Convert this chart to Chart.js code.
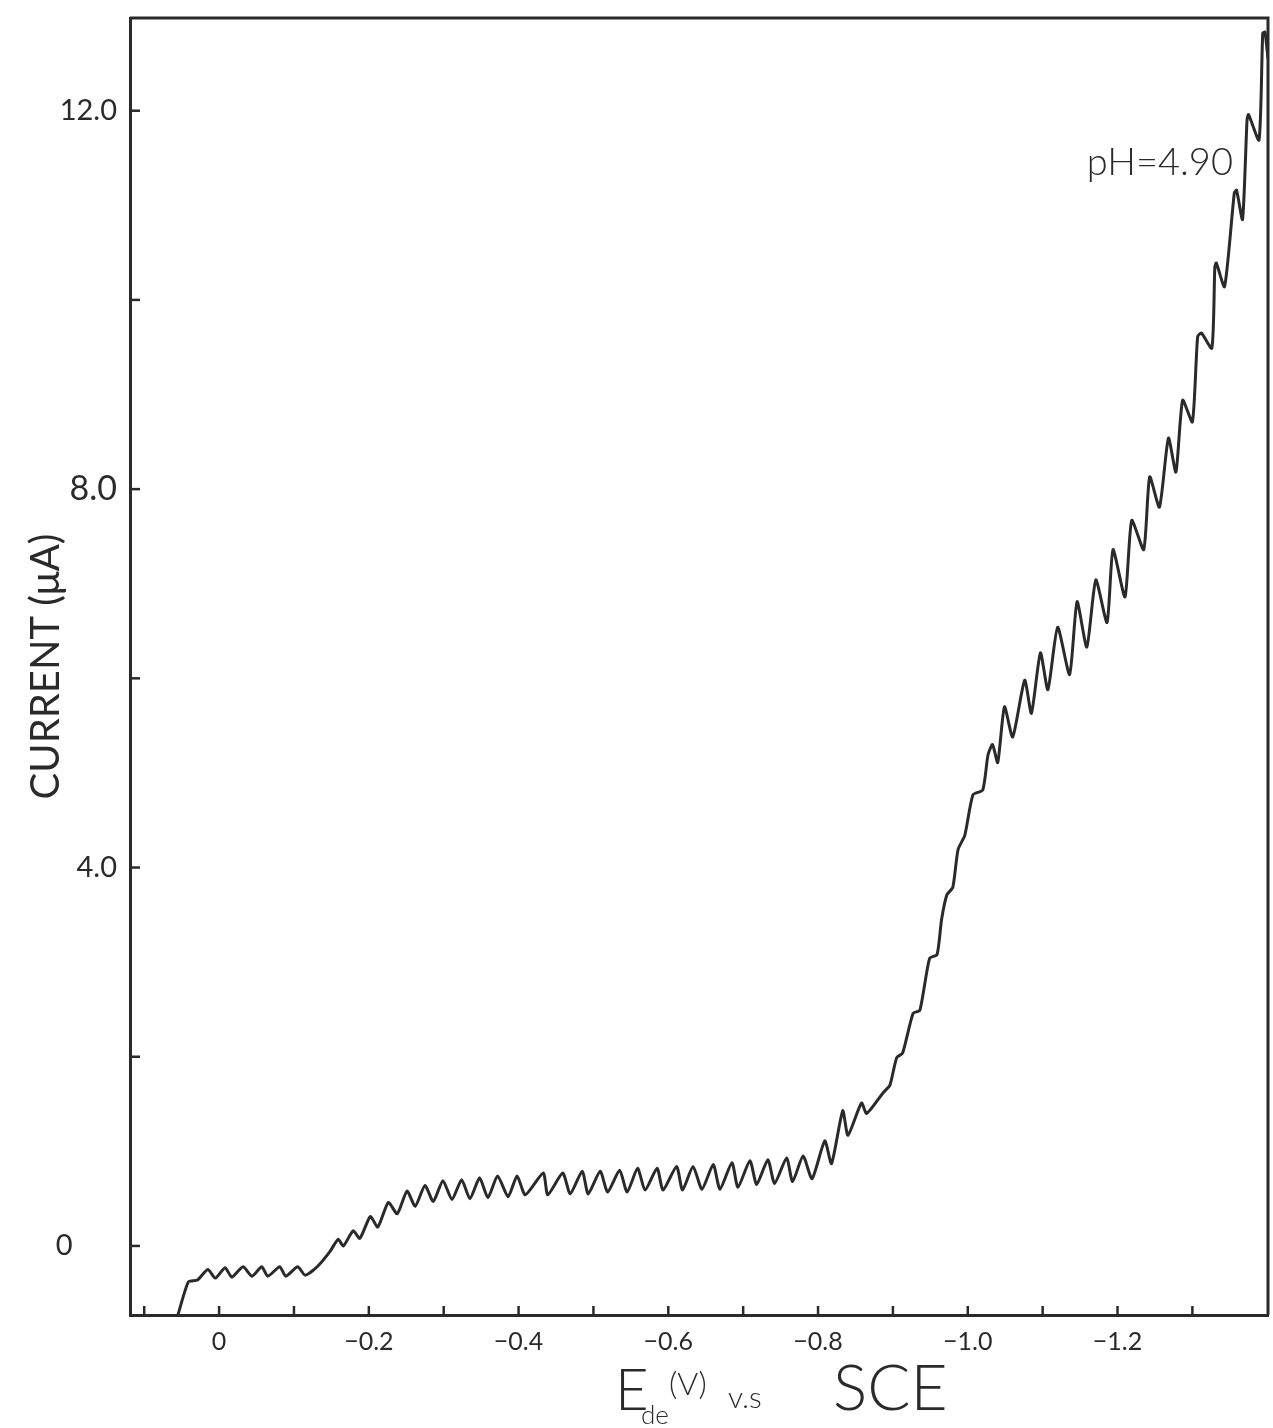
<!DOCTYPE html>
<html>
<head>
<meta charset="utf-8">
<script src="https://cdn.jsdelivr.net/npm/chart.js@4.4.1/dist/chart.umd.min.js"></script>
<style>
  html, body { margin: 0; padding: 0; background: #fff; }
  canvas { display: block; }
</style>
</head>
<body>
<canvas id="polarogram" width="1273" height="1428"></canvas>
<script>
// potential of the dropping electrode (V vs SCE) and current (uA)
const potential = [
  0.055, 0.041, 0.029, 0.015, 0.005, -0.008, -0.017, -0.032, -0.044, -0.057,
  -0.065, -0.081, -0.089, -0.105, -0.115, -0.131, -0.148, -0.159, -0.166, -0.179,
  -0.188, -0.202, -0.212, -0.226, -0.238, -0.251, -0.262, -0.275, -0.286, -0.299,
  -0.311, -0.324, -0.335, -0.348, -0.359, -0.372, -0.386, -0.398, -0.409, -0.433,
  -0.439, -0.459, -0.469, -0.485, -0.493, -0.509, -0.519, -0.535, -0.545, -0.559,
  -0.569, -0.585, -0.593, -0.611, -0.619, -0.633, -0.645, -0.660, -0.669, -0.685,
  -0.693, -0.709, -0.718, -0.733, -0.742, -0.758, -0.766, -0.780, -0.792, -0.809,
  -0.818, -0.833, -0.840, -0.858, -0.865, -0.887, -0.896, -0.905, -0.913, -0.927,
  -0.936, -0.949, -0.959, -0.965, -0.972, -0.980, -0.987, -0.996, -1.007, -1.020,
  -1.027, -1.033, -1.040, -1.049, -1.060, -1.076, -1.085, -1.097, -1.107, -1.120,
  -1.136, -1.146, -1.159, -1.171, -1.186, -1.194, -1.210, -1.219, -1.235, -1.243,
  -1.256, -1.268, -1.278, -1.287, -1.300, -1.307, -1.312, -1.326, -1.330, -1.332,
  -1.343, -1.356, -1.359, -1.367, -1.373, -1.375, -1.389, -1.394, -1.397, -1.401
];
const current = [
  -0.73, -0.38, -0.36, -0.25, -0.34, -0.23, -0.33, -0.22, -0.32, -0.22,
  -0.32, -0.22, -0.32, -0.22, -0.31, -0.22, -0.06, 0.07, 0.00, 0.16,
  0.08, 0.31, 0.20, 0.46, 0.34, 0.58, 0.42, 0.64, 0.47, 0.69,
  0.49, 0.70, 0.50, 0.72, 0.51, 0.74, 0.52, 0.74, 0.54, 0.77,
  0.54, 0.77, 0.55, 0.79, 0.55, 0.79, 0.57, 0.80, 0.57, 0.82,
  0.59, 0.82, 0.59, 0.84, 0.59, 0.84, 0.60, 0.86, 0.60, 0.88,
  0.62, 0.90, 0.65, 0.91, 0.66, 0.93, 0.68, 0.95, 0.71, 1.11,
  0.87, 1.43, 1.17, 1.51, 1.40, 1.62, 1.70, 1.99, 2.04, 2.46,
  2.49, 3.04, 3.08, 3.45, 3.71, 3.79, 4.19, 4.34, 4.77, 4.82,
  5.19, 5.30, 5.11, 5.70, 5.38, 5.98, 5.63, 6.27, 5.88, 6.54,
  6.04, 6.81, 6.33, 7.04, 6.59, 7.36, 6.86, 7.67, 7.36, 8.13,
  7.81, 8.54, 8.18, 8.94, 8.71, 9.61, 9.65, 9.49, 10.35, 10.39,
  10.14, 11.13, 11.16, 10.85, 11.90, 11.96, 11.69, 12.82, 12.83, 12.55
];

// axis ticks
const xTickValues = [0.1, 0, -0.1, -0.2, -0.3, -0.4, -0.5, -0.6, -0.7, -0.8, -0.9, -1.0, -1.1, -1.2, -1.3];
const xTickLabels = ['', '0', '', '\u22120.2', '', '\u22120.4', '', '\u22120.6', '', '\u22120.8', '', '\u22121.0', '', '\u22121.2', ''];
const yTickValues = [0, 2, 4, 6, 8, 10, 12];
const yTickLabels = ['0\u00a0\u00a0\u00a0\u00a0\u00a0\u00a0', '', '4.0', '', '8.0', '', '12.0'];

const FONT = "Lato, 'Open Sans', 'DejaVu Sans', sans-serif";
const INK = '#2a2a2a';

// inward tick marks, closed frame and the free text of the figure
const paperPlugin = {
    id: 'paper',
    afterDraw(chart) {
        const ctx = chart.ctx;
        const area = chart.chartArea;
        const xs = chart.scales.x;
        const ys = chart.scales.y;
        ctx.save();
        ctx.strokeStyle = INK;
        ctx.lineWidth = 3;
        ctx.beginPath();
        ctx.moveTo(area.left, area.top);
        ctx.lineTo(area.right, area.top);
        ctx.lineTo(area.right, area.bottom);
        ctx.stroke();

        ctx.lineWidth = 2.5;
        xTickValues.forEach(v => {
            const px = xs.getPixelForValue(v);
            ctx.beginPath();
            ctx.moveTo(px, area.bottom);
            ctx.lineTo(px, area.bottom - 9);
            ctx.stroke();
        });
        yTickValues.forEach(v => {
            const py = ys.getPixelForValue(v);
            ctx.beginPath();
            ctx.moveTo(area.left, py);
            ctx.lineTo(area.left + 10, py);
            ctx.stroke();
        });

        // pH label
        ctx.fillStyle = INK;
        ctx.textBaseline = 'alphabetic';
        ctx.textAlign = 'left';
        ctx.font = '300 38px ' + FONT;
        ctx.fillText('pH=4.90', xs.getPixelForValue(-1.159), ys.getPixelForValue(11.32));

        // x axis title: E_de (V) v.s SCE
        const base = area.bottom + 95;
        ctx.font = '300 58px ' + FONT;
        ctx.fillText('E', 615, base);
        ctx.font = '300 26px ' + FONT;
        ctx.fillText('de', 641, base + 14);
        ctx.font = '300 32px ' + FONT;
        ctx.fillText('(V)', 669, base - 15);
        ctx.font = '300 30px ' + FONT;
        ctx.fillText('v.s', 728, base - 2);
        ctx.font = '300 64px ' + FONT;
        ctx.fillText('SCE', 833, base);
        ctx.restore();
    }
};

function createPolarogram() {
    const ctx = document.getElementById('polarogram').getContext('2d');
    const points = potential.map((e, i) => ({ x: e, y: current[i] }));

    new Chart(ctx, {
        type: 'line',
        data: {
            datasets: [{
                label: 'pH=4.90',
                data: points,
                borderColor: INK,
                borderWidth: 3,
                pointRadius: 0,
                tension: 0.2,
                fill: false
            }]
        },
        options: {
            responsive: false,
            animation: false,
            devicePixelRatio: 1,
            layout: { padding: { top: 18, right: 5, left: 0, bottom: 0 } },
            plugins: {
                legend: { display: false },
                tooltip: { enabled: false }
            },
            scales: {
                x: {
                    type: 'linear',
                    reverse: true,
                    min: -1.401,
                    max: 0.119,
                    afterBuildTicks: s => { s.ticks = xTickValues.map(v => ({ value: v })); },
                    afterFit: s => {
                        s.height = 113;
                        s.paddingLeft = 0;
                        s.paddingRight = 0;
                    },
                    ticks: {
                        autoSkip: false,
                        maxRotation: 0,
                        padding: 12,
                        color: INK,
                        font: { family: FONT, size: 25 },
                        callback: (v, i) => xTickLabels[i]
                    },
                    grid: { display: false, drawTicks: false },
                    border: { display: true, color: INK, width: 3 }
                },
                y: {
                    min: -0.73,
                    max: 12.98,
                    afterBuildTicks: s => { s.ticks = yTickValues.map(v => ({ value: v })); },
                    afterFit: s => {
                        s.width = 130;
                        s.paddingTop = 0;
                        s.paddingBottom = 0;
                    },
                    ticks: {
                        autoSkip: false,
                        padding: 13,
                        color: INK,
                        font: c => ({ family: FONT, size: c.tick && c.tick.value === 8 ? 34 : 29 }),
                        callback: (v, i) => yTickLabels[i]
                    },
                    grid: { display: false, drawTicks: false },
                    border: { display: true, color: INK, width: 3 },
                    title: {
                        display: true,
                        text: 'CURRENT (\u03bcA)',
                        color: INK,
                        font: { family: FONT, size: 40 },
                        padding: { top: 22, bottom: 0 }
                    }
                }
            }
        },
        plugins: [paperPlugin]
    });
}

createPolarogram();
</script>
</body>
</html>
